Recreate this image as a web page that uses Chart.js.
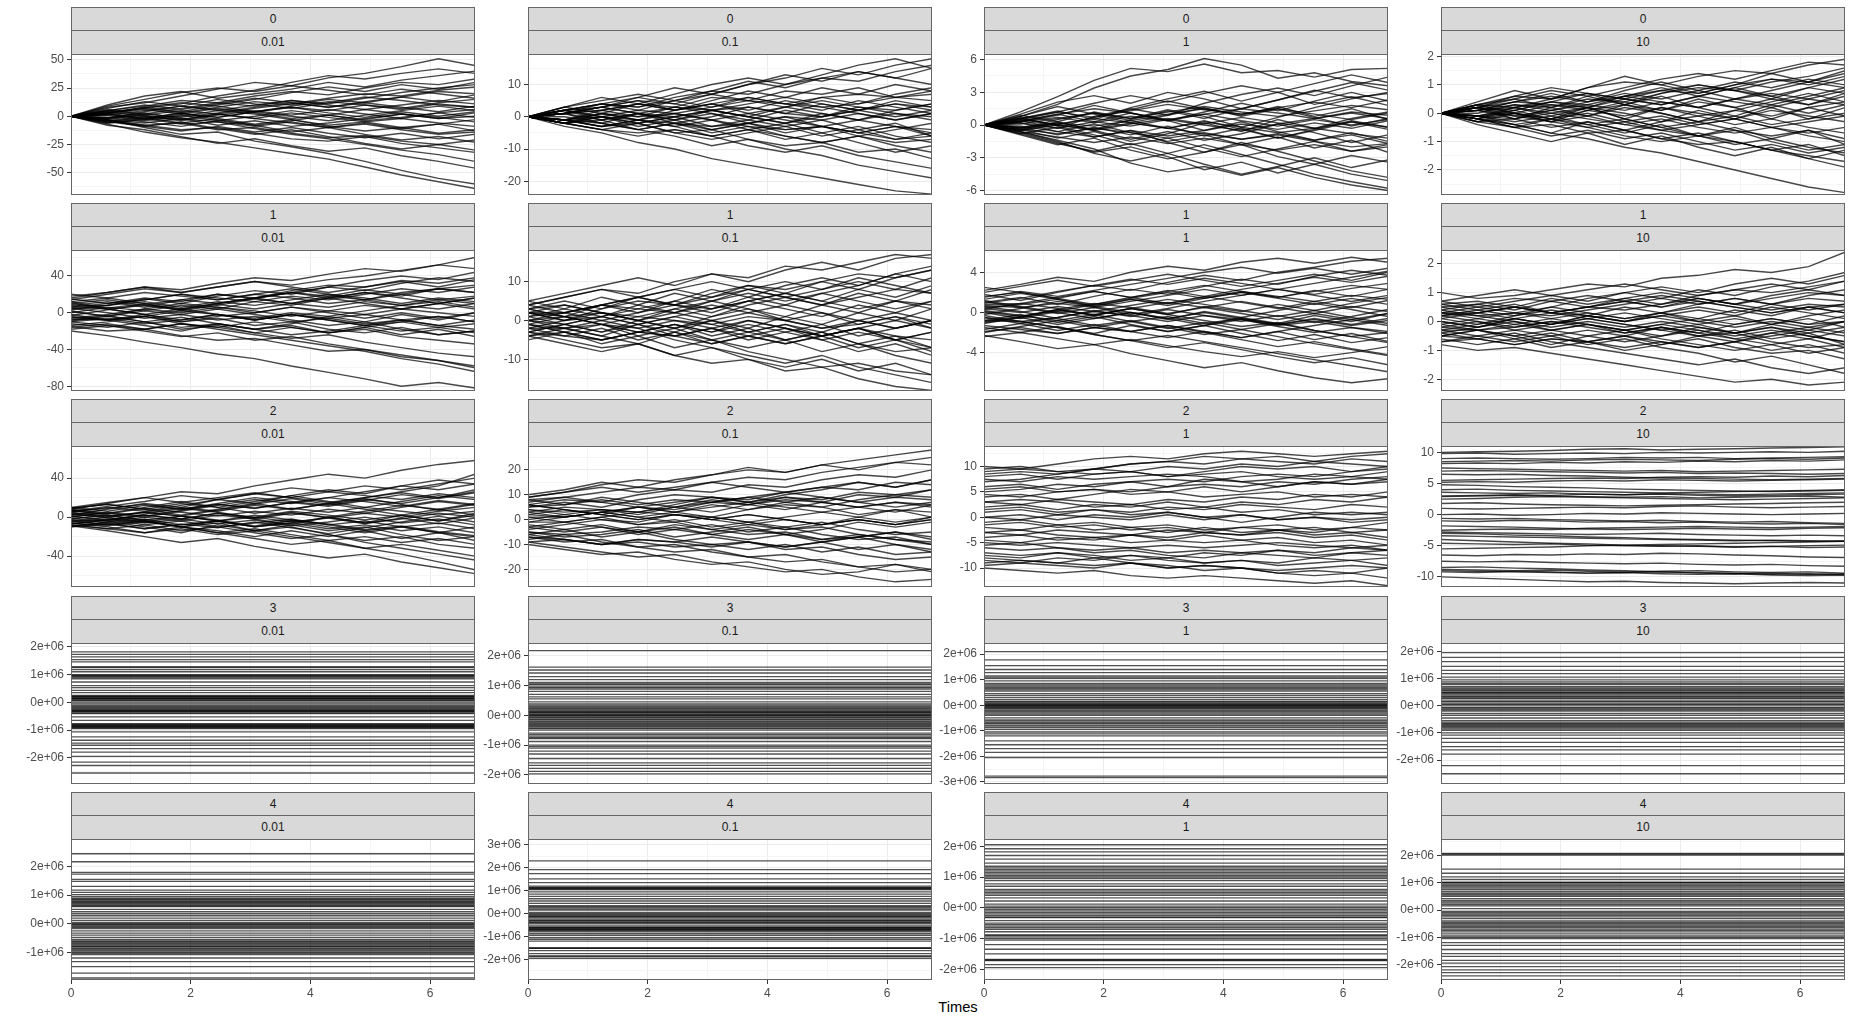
<!DOCTYPE html>
<html><head><meta charset="utf-8">
<script src="https://cdn.jsdelivr.net/npm/chart.js@4.4.0/dist/chart.umd.min.js"></script>
<style>
html,body{margin:0;padding:0;background:#fff;}
body{width:1853px;height:1025px;position:relative;overflow:hidden;font-family:"Liberation Sans",Arial,sans-serif;}
.strip{position:absolute;box-sizing:border-box;background:#D9D9D9;border:1px solid #666;color:#1A1A1A;font-size:12px;text-align:center;}
.s2{border-top:none;border-bottom:none;}
canvas{position:absolute;}
#xtitle{position:absolute;left:958px;top:999px;transform:translateX(-50%);font-size:14.7px;color:#000;line-height:17px;}
</style></head><body>
<div id="xtitle">Times</div>
<script>
// ---------------- DATA ----------------
const rowLabels = ["0", "1", "2", "3", "4"];
const colLabels = ["0.01", "0.1", "1", "10"];
const times = [0, 0.61, 1.23, 1.84, 2.45, 3.07, 3.68, 4.3, 4.91, 5.52, 6.14, 6.75];
const xTicks = [0, 1, 2, 3, 4, 5, 6];

// row "0"
const paths_r0_c0 = [
[0,5,9,14,12,18,22,19,25,30,28,33],[0,-4,-8,-6,-12,-10,-15,-19,-17,-22,-25,-21],[0,8,12,18,24,30,27,34,38,44,51,45],
[0,-6,-3,2,-1,4,8,5,10,7,12,15],[0,3,-2,-7,-5,-11,-16,-20,-25,-30,-34,-40],[0,-2,4,9,6,3,-2,1,-4,-1,3,6],
[0,10,18,22,16,20,24,30,26,32,36,40],[0,-7,-14,-19,-23,-28,-33,-38,-45,-52,-58,-64],[0,4,7,3,8,13,10,15,12,17,22,20],
[0,-3,-8,-12,-10,-15,-20,-22,-18,-24,-28,-32],[0,6,2,7,12,9,14,11,16,21,25,28],[0,-5,-1,-6,-2,-7,-3,-9,-13,-10,-15,-12],
[0,2,8,4,10,15,21,26,22,28,24,30],[0,-8,-12,-18,-24,-20,-26,-31,-28,-35,-40,-46],[0,1,-4,0,5,2,-3,-8,-5,-10,-7,-3],
[0,7,13,9,15,11,7,12,17,14,10,8],[0,-1,3,-2,-8,-4,-9,-6,-2,2,-1,-5],[0,5,1,-3,2,7,11,16,20,18,23,26],
[0,-4,-9,-5,-11,-16,-12,-18,-24,-29,-25,-30],[0,3,7,11,18,23,30,36,33,38,42,38],[0,-6,-2,3,-3,-8,-14,-10,-16,-21,-18,-23],
[0,2,-3,1,-4,0,5,1,6,2,-2,0],[0,9,15,21,25,22,27,23,19,24,20,16],[0,-3,-10,-16,-14,-22,-27,-33,-40,-48,-55,-60],
[0,3,6,2,7,4,9,13,10,6,11,8],[0,-2,1,5,2,-2,3,-1,-5,-2,-6,-9],[0,4,0,-4,1,5,1,6,2,-2,3,-1],
[0,-3,-6,-2,-5,-9,-5,-10,-6,-11,-7,-13],[0,1,5,9,5,10,14,10,6,10,14,11],[0,-1,-5,-9,-4,-8,-4,1,-3,2,-2,3],
[0,5,10,6,11,16,12,8,13,17,13,19],[0,-4,0,-3,2,-2,-6,-10,-7,-12,-16,-14],[0,2,-2,3,-1,4,0,-4,1,5,9,5],
[0,-5,-9,-13,-9,-14,-10,-15,-19,-15,-20,-16],[0,3,8,12,9,4,8,3,-1,4,0,4],[0,-2,2,-1,3,8,12,8,12,8,4,9]];
const paths_r0_c1 = [
[0,2,4,3,6,8,7,10,12,11,14,16],[0,-1,-3,-2,-5,-4,-7,-9,-8,-11,-10,-13],[0,3,1,4,2,5,8,6,9,7,10,8],
[0,-2,0,-3,-1,-4,-2,-5,-3,-6,-4,-2],[0,1,3,6,4,7,10,12,15,13,16,18],[0,-3,-5,-8,-10,-13,-15,-17,-19,-21,-23,-24],
[0,2,-1,1,-2,0,3,1,4,2,5,3],[0,-1,1,-1,2,4,2,5,3,1,-1,1],[0,1,-2,-4,-2,-5,-3,-6,-8,-6,-9,-11],
[0,3,5,7,5,8,11,9,12,14,12,10],[0,-2,-4,-2,-5,-7,-5,-3,-6,-4,-7,-5],[0,1,3,1,-1,2,0,-2,1,-1,2,4],
[0,2,4,6,9,7,10,13,11,14,12,15],[0,-2,-1,-4,-6,-9,-7,-10,-12,-15,-17,-19],[0,1,2,0,3,1,-1,-3,-1,-4,-2,-6],
[0,-1,2,4,3,6,5,8,7,9,6,7],[0,2,0,-2,0,-3,-1,2,0,3,1,-1],[0,-1,-3,-1,-3,-1,-4,-2,-5,-3,-6,-8],
[0,2,3,5,2,4,1,3,6,4,7,9],[0,-2,-4,-6,-4,-6,-9,-11,-9,-12,-14,-16],[0,1,4,2,5,3,6,4,2,5,3,1],
[0,-1,-2,1,-1,1,-2,0,-3,-5,-3,-5],[0,3,6,4,7,10,12,10,13,16,18,15],[0,-2,1,-1,-3,-6,-4,-7,-5,-8,-11,-9],
[0,1,3,1,3,2,4,6,4,2,4,3],[0,-1,0,2,1,-1,1,-1,-3,-1,-3,-4],[0,2,0,-2,0,2,0,3,1,-1,1,0],
[0,-1,-3,-1,-2,-4,-2,-4,-3,-5,-3,-6],[0,1,2,4,2,4,6,4,3,4,6,5],[0,0,-2,-4,-2,-3,-2,0,-1,1,-1,1],
[0,2,4,3,5,7,5,4,6,7,6,8],[0,-2,0,-1,1,-1,-3,-4,-3,-5,-7,-6],[0,1,-1,1,0,2,0,-2,0,2,4,2],
[0,-2,-4,-5,-4,-6,-4,-6,-8,-6,-8,-7],[0,1,3,5,4,2,3,1,0,2,0,2],[0,-1,1,0,1,3,5,3,5,3,2,4]];
const paths_r0_c2 = [
[0,0.8,1.9,3.4,4.5,5.1,6.1,5.5,4.3,4.8,4.0,3.6],[0,1.2,2.6,4.1,5.2,4.9,5.6,4.8,5.0,4.4,5.1,5.2],[0,-0.6,-1.4,-2.2,-3.5,-4.3,-3.8,-4.6,-3.9,-4.8,-5.5,-6.0],
[0,0.4,-0.3,0.8,1.5,0.9,2.0,2.8,3.4,2.7,3.6,4.4],[0,-0.8,-0.2,-1.1,-0.5,-1.6,-2.5,-1.8,-2.9,-3.6,-2.8,-3.4],[0,0.6,1.3,0.5,1.6,2.4,3.1,2.2,3.0,1.9,2.6,1.8],
[0,-0.4,-1.2,-0.6,-1.5,-0.8,0.2,-0.6,0.5,-0.3,0.6,1.2],[0,0.9,0.3,1.2,0.6,1.4,0.8,-0.2,0.7,1.6,2.4,3.0],[0,-0.7,-1.6,-2.5,-2.0,-2.9,-4.1,-3.4,-4.4,-3.6,-4.5,-5.1],
[0,0.3,0.9,1.8,1.1,0.4,-0.5,0.3,-0.6,-1.4,-0.7,-1.5],[0,-0.5,0.2,-0.4,0.5,1.3,0.6,1.5,2.3,3.1,3.9,3.2],[0,0.7,-0.1,-0.9,-1.8,-1.2,-2.1,-2.9,-2.2,-1.5,-2.4,-1.8],
[0,-0.9,-1.8,-1.2,-2.3,-3.1,-2.5,-1.6,-2.4,-3.3,-4.2,-4.8],[0,0.5,1.2,2.0,2.7,2.1,2.9,3.6,3.0,3.8,4.6,3.9],[0,-0.3,0.5,1.1,0.4,-0.3,0.4,-0.4,-1.2,-0.5,0.3,-0.4],
[0,0.8,1.7,1.0,0.2,0.9,1.6,0.8,1.5,0.7,-0.1,0.6],[0,-0.6,-1.5,-2.6,-3.3,-2.6,-3.6,-4.5,-3.8,-3.0,-3.9,-3.2],[0,0.2,-0.6,0.1,-0.7,-1.5,-0.9,-1.8,-1.1,-2.1,-1.4,-2.5],
[0,1.0,2.1,2.7,2.0,3.0,2.4,1.5,2.3,3.2,2.5,2.9],[0,-0.4,0.3,-0.5,-1.3,-0.6,-1.4,-0.8,0.1,-0.7,-1.6,-0.9],[0,0.6,0.0,0.7,1.4,2.2,1.5,0.9,1.7,0.8,1.5,0.5],
[0,-0.8,-1.7,-2.4,-1.7,-2.6,-1.8,-2.7,-3.6,-4.5,-5.2,-5.8],[0,0.3,1.0,0.3,1.1,0.4,1.2,2.0,1.3,2.2,3.0,2.2],[0,-0.2,-0.9,-0.2,-0.9,-0.1,-1.0,-0.3,-1.2,-0.4,0.4,-0.2],
[0,0.3,0.7,0.2,0.8,0.4,1.0,1.5,1.1,0.6,1.2,0.9],[0,-0.3,0.1,0.6,0.2,-0.3,0.3,-0.2,-0.7,-0.3,-0.8,-1.2],[0,0.5,0.0,-0.5,0.1,0.6,0.1,0.7,0.2,-0.3,0.3,-0.2],
[0,-0.4,-0.8,-0.3,-0.7,-1.2,-0.7,-1.3,-0.8,-1.4,-0.9,-1.7],[0,0.1,0.6,1.1,0.6,1.2,1.7,1.2,0.8,1.3,1.8,1.4],[0,-0.1,-0.6,-1.1,-0.5,-1.0,-0.5,0.1,-0.4,0.2,-0.3,0.4],
[0,0.6,1.2,0.7,1.3,1.9,1.4,1.0,1.6,2.1,1.6,2.3],[0,-0.5,0.0,-0.4,0.2,-0.3,-0.8,-1.3,-0.9,-1.5,-2.0,-1.7],[0,0.2,-0.3,0.3,-0.1,0.5,0.0,-0.5,0.1,0.6,1.1,0.6],
[0,-0.6,-1.1,-1.6,-1.1,-1.7,-1.2,-1.8,-2.3,-1.8,-2.4,-2.0],[0,0.4,1.0,1.5,1.1,0.5,1.0,0.4,-0.1,0.5,0.0,0.5],[0,-0.2,0.2,-0.1,0.4,1.0,1.5,1.0,1.5,1.0,0.5,1.1]];
const paths_r0_c3 = [
[0,0.3,0.6,0.5,0.9,1.1,1.0,1.3,1.5,1.4,1.7,1.9],[0,-0.2,-0.4,-0.7,-0.9,-1.2,-1.4,-1.7,-2.0,-2.3,-2.6,-2.8],[0,0.2,0.1,0.4,0.3,0.6,0.8,0.7,1.0,1.2,1.1,1.4],
[0,-0.1,0.1,-0.2,0.0,-0.3,-0.1,-0.4,-0.2,-0.5,-0.3,-0.1],[0,0.1,0.3,0.2,0.5,0.4,0.7,0.9,0.8,1.1,1.3,1.6],[0,-0.3,-0.5,-0.4,-0.7,-0.6,-0.9,-1.1,-1.0,-1.3,-1.5,-1.7],
[0,0.2,0.0,0.3,0.1,0.3,0.1,0.4,0.2,0.5,0.3,0.6],[0,-0.1,-0.3,-0.1,-0.4,-0.2,-0.5,-0.3,-0.6,-0.8,-0.6,-0.9],[0,0.1,0.4,0.6,0.4,0.7,0.5,0.8,1.1,0.9,1.2,1.0],
[0,-0.2,0.0,-0.2,0.1,-0.1,0.2,0.0,-0.2,0.1,-0.1,-0.3],[0,0.3,0.5,0.8,0.6,0.9,1.2,1.4,1.2,1.5,1.8,1.7],[0,-0.2,-0.5,-0.8,-0.6,-0.9,-0.7,-1.0,-1.3,-1.1,-1.4,-1.2],
[0,0.1,-0.1,0.1,0.3,0.1,0.4,0.2,0.5,0.7,0.5,0.8],[0,-0.1,0.2,0.0,-0.2,-0.4,-0.2,-0.5,-0.7,-0.5,-0.8,-1.0],[0,0.2,0.4,0.3,0.2,0.5,0.3,0.6,0.4,0.2,0.5,0.3],
[0,-0.3,-0.2,-0.5,-0.3,-0.6,-0.9,-0.7,-1.0,-1.3,-1.6,-1.9],[0,0.1,0.2,0.5,0.7,0.5,0.8,1.0,0.8,0.6,0.9,1.2],[0,-0.1,-0.2,0.1,-0.1,0.2,0.0,-0.3,-0.1,-0.4,-0.2,0.0],
[0,0.2,-0.1,-0.3,-0.1,-0.4,-0.6,-0.4,-0.2,-0.5,-0.7,-0.5],[0,0.0,0.3,0.1,0.4,0.6,0.4,0.2,0.5,0.3,0.6,0.9],[0,-0.2,-0.4,-0.2,-0.5,-0.8,-1.0,-0.8,-1.1,-0.9,-1.2,-1.4],
[0,0.3,0.2,0.4,0.7,0.5,0.3,0.6,0.9,1.2,1.0,1.3],[0,-0.1,0.0,-0.3,-0.5,-0.3,-0.6,-0.8,-1.0,-1.3,-1.1,-1.5],[0,0.1,-0.2,0.0,0.2,0.0,-0.3,-0.1,0.1,-0.1,0.2,0.4],
[0,0.2,0.5,0.2,0.6,0.3,0.7,1.0,0.8,0.5,0.9,0.7],[0,-0.2,0.1,0.4,0.2,-0.2,0.2,-0.1,-0.4,-0.2,-0.5,-0.7],[0,0.3,0.0,-0.3,0.1,0.4,0.1,0.5,0.2,-0.2,0.2,-0.1],
[0,-0.2,-0.5,-0.2,-0.4,-0.7,-0.4,-0.8,-0.5,-0.9,-0.6,-1.1],[0,0.1,0.4,0.7,0.4,0.8,1.1,0.8,0.5,0.8,1.1,0.9],[0,-0.1,-0.4,-0.7,-0.3,-0.6,-0.3,0.1,-0.2,0.2,-0.2,0.2],
[0,0.4,0.8,0.5,0.9,1.3,1.0,0.7,1.0,1.4,1.1,1.5],[0,-0.3,0.0,-0.2,0.2,-0.2,-0.5,-0.8,-0.6,-1.0,-1.3,-1.1],[0,0.2,-0.2,0.2,-0.1,0.3,0.0,-0.3,0.1,0.4,0.7,0.4],
[0,-0.4,-0.7,-1.0,-0.7,-1.1,-0.8,-1.2,-1.5,-1.2,-1.6,-1.3],[0,0.2,0.6,0.9,0.7,0.3,0.6,0.2,-0.1,0.3,0.0,0.3],[0,-0.2,0.2,-0.1,0.2,0.6,0.9,0.6,0.9,0.6,0.3,0.7]];

// row "1"
const paths_r1_c0 = [
[18,22,28,25,32,38,35,42,48,45,52,60],[-15,-20,-18,-25,-30,-28,-35,-42,-40,-48,-52,-58],[8,12,6,14,20,16,24,30,28,35,32,38],
[-5,-8,-2,-10,-6,-14,-10,-18,-22,-16,-24,-20],[12,5,10,2,8,15,10,18,14,22,26,30],[-20,-25,-32,-38,-45,-50,-58,-65,-72,-80,-76,-82],
[3,8,15,10,18,24,20,28,35,40,36,44],[-8,-3,-10,-5,-12,-18,-14,-22,-18,-26,-30,-34],[15,10,16,12,20,15,22,18,25,20,14,18],
[-12,-16,-10,-18,-14,-22,-28,-24,-32,-38,-44,-48],[0,6,2,8,4,12,8,16,22,18,26,22],[5,0,-6,-2,-8,-4,-10,-6,-2,-8,-4,-10],
[-3,3,9,14,10,16,22,28,24,32,38,34],[20,16,22,18,14,20,16,10,14,8,12,6],[-18,-14,-20,-26,-22,-30,-26,-34,-40,-46,-52,-60],
[10,14,8,3,9,4,10,6,12,8,14,10],[-6,-2,4,0,6,2,-4,2,-2,4,0,-4],[2,-4,-10,-16,-12,-18,-24,-20,-14,-20,-16,-22],
[14,20,26,22,28,34,30,36,40,46,52,48],[-10,-6,-12,-8,-2,-6,0,-4,2,8,4,10],[6,10,14,20,16,12,18,14,20,26,22,28],
[-2,-8,-4,-12,-18,-24,-30,-36,-42,-50,-56,-64],[9,4,-2,4,-2,-8,-2,-8,-14,-10,-16,-12],[-14,-10,-4,-10,-4,0,6,2,8,4,10,16],
[4,8,12,6,12,8,14,20,16,10,16,12],[-4,-8,-4,2,-2,-8,-2,-6,-12,-8,-14,-18],[12,16,10,4,10,16,10,16,10,4,10,4],
[-10,-14,-18,-12,-16,-22,-16,-22,-16,-24,-18,-26],[7,8,14,20,14,20,26,20,14,20,26,22],[-7,-8,-14,-20,-12,-18,-12,-4,-10,-2,-8,0],
[16,22,28,22,28,34,28,22,28,34,28,36],[1,-4,2,-2,4,-2,-8,-14,-10,-18,-24,-20],[-16,-12,-18,-12,-16,-10,-16,-22,-16,-10,-4,-10],
[11,4,-2,-8,-2,-8,-2,-8,-14,-8,-14,-8],[-9,-4,4,10,6,0,6,0,-6,0,-6,0],[6,4,8,4,10,16,22,16,22,16,10,16]];
const paths_r1_c1 = [
[4,6,8,7,10,12,11,14,13,15,17,16],[-3,-5,-7,-6,-9,-11,-10,-13,-12,-15,-17,-18],[2,0,3,5,4,7,9,8,10,12,11,13],
[-1,-3,-1,-4,-2,-5,-7,-5,-8,-6,-9,-11],[5,3,6,4,7,5,8,10,8,11,9,7],[-5,-3,-6,-4,-7,-5,-8,-10,-12,-11,-13,-14],
[1,3,1,4,2,5,3,0,2,-1,1,-2],[-2,0,2,0,3,1,4,6,4,7,5,8],[3,1,-1,-3,-1,-4,-2,-5,-3,-6,-4,-7],
[0,-2,0,2,5,3,6,4,7,9,12,14],[-4,-2,-4,-1,-3,0,-2,1,-1,2,0,3],[2,4,2,0,-2,0,-3,-1,-4,-2,-5,-3],
[-1,1,4,6,8,6,9,7,5,8,6,9],[4,2,0,-2,-5,-7,-9,-11,-9,-12,-14,-16],[-3,-1,-3,0,-2,1,3,1,4,2,5,3],
[1,-1,-3,-1,-4,-2,-5,-3,-1,-4,-2,0],[0,2,4,3,5,8,6,9,11,9,12,10],[-2,-4,-2,-5,-3,-6,-4,-2,-5,-8,-6,-9],
[3,5,3,6,4,2,5,3,1,4,2,5],[-4,-6,-8,-6,-9,-7,-10,-12,-10,-13,-11,-14],[2,0,1,-1,1,3,5,7,10,8,11,13],
[-1,-3,-5,-3,-1,-3,0,-2,-4,-2,-5,-7],[5,7,9,11,9,12,10,13,15,13,16,17],[0,1,-1,-2,0,-1,1,0,-2,-1,1,-1],
[1,2,4,2,4,3,5,7,5,3,5,4],[-1,-2,-1,1,0,-2,0,-2,-4,-2,-4,-5],[3,4,2,0,2,4,2,4,2,0,2,0],
[-3,-4,-5,-3,-4,-6,-4,-6,-4,-7,-5,-8],[2,2,4,6,4,6,8,6,4,6,8,7],[-2,-2,-4,-6,-3,-5,-3,-1,-3,0,-2,0],
[4,6,8,6,8,10,8,6,8,10,8,11],[0,-1,1,-1,1,-1,-3,-5,-3,-6,-8,-7],[-4,-3,-5,-3,-4,-2,-4,-6,-4,-2,0,-2],
[3,1,-1,-3,-1,-3,-1,-3,-5,-3,-5,-3],[-3,-1,1,3,2,0,2,0,-2,0,-2,0],[2,1,2,1,3,5,7,5,7,5,3,5]];
const paths_r1_c2 = [
[2.2,2.8,3.5,3.1,4.0,4.6,4.2,5.0,5.4,4.9,5.5,5.0],[-2.3,-2.9,-3.6,-3.2,-4.1,-4.8,-5.5,-5.0,-5.8,-6.5,-7.0,-6.6],[1.0,1.5,0.8,1.6,2.3,1.8,2.6,3.3,2.8,3.6,4.2,3.7],
[-0.8,-0.2,-1.0,-0.4,-1.2,-1.9,-1.3,-2.1,-2.8,-2.2,-3.0,-2.5],[0.3,0.9,0.4,-0.3,0.4,-0.2,0.6,0.1,0.8,0.2,0.9,1.5],[-1.5,-2.0,-1.4,-2.2,-2.8,-3.5,-3.0,-3.7,-4.4,-5.0,-4.5,-5.2],
[1.8,1.2,2.0,2.7,2.2,3.0,3.7,3.2,4.0,4.5,5.1,5.4],[-0.2,0.4,1.1,0.6,1.3,0.7,1.4,2.0,1.5,2.2,1.6,2.3],[0.6,0.1,-0.6,-1.3,-0.8,-1.5,-2.2,-1.7,-1.1,-1.8,-2.4,-3.0],
[-1.1,-0.5,-1.2,-0.6,0.0,-0.7,0.1,-0.5,0.2,0.9,0.3,-0.4],[2.5,2.0,1.4,2.1,1.5,0.9,1.6,1.0,0.4,1.1,0.5,1.2],[-2.0,-1.4,-0.8,-1.5,-0.9,-1.6,-1.0,-1.7,-2.4,-3.1,-3.7,-4.3],
[0.0,-0.6,0.1,0.8,1.5,2.2,1.6,2.3,2.9,3.5,3.0,3.6],[1.3,1.9,1.3,0.6,0.0,-0.6,-1.3,-0.7,-1.4,-2.0,-1.5,-2.1],[-0.5,-1.1,-1.8,-1.2,-1.9,-1.3,-2.0,-2.7,-3.4,-2.9,-3.6,-4.2],
[0.9,1.4,2.1,2.7,3.3,2.8,3.4,2.9,2.3,2.9,3.5,4.1],[-1.7,-1.1,-0.5,0.2,-0.4,0.3,-0.3,-0.9,-0.3,-1.0,-0.4,0.3],[0.4,0.0,0.6,0.1,0.7,1.3,0.8,0.2,-0.4,0.2,-0.5,-1.1],
[-0.3,-0.9,-1.5,-2.2,-2.8,-2.3,-2.9,-3.5,-4.1,-4.7,-5.3,-5.9],[1.5,2.1,1.6,2.2,2.8,3.4,4.0,4.5,3.9,4.4,3.8,4.4],[-0.9,-0.4,0.3,-0.3,0.4,1.0,0.5,1.1,0.5,-0.1,0.6,0.1],
[0.2,-0.3,-0.8,-0.2,-0.9,-0.4,-1.1,-0.6,-1.2,-0.7,-1.3,-0.8],[-2.4,-2.0,-2.6,-3.2,-2.7,-3.3,-3.9,-4.4,-3.9,-4.5,-4.0,-3.4],[1.1,0.5,-0.1,0.5,-0.2,0.4,1.1,1.7,2.3,1.8,2.4,2.9],
[0.5,0.8,1.3,0.7,1.3,0.9,1.5,2.1,1.6,1.1,1.7,1.3],[-0.5,-0.9,-0.5,0.1,-0.3,-0.9,-0.3,-0.7,-1.3,-0.9,-1.5,-1.9],[1.6,2.0,1.4,0.8,1.4,2.0,1.4,2.0,1.4,0.8,1.4,0.8],
[-1.3,-1.7,-2.1,-1.5,-1.9,-2.5,-1.9,-2.5,-1.9,-2.7,-2.1,-2.9],[0.8,0.9,1.5,2.1,1.5,2.1,2.7,2.1,1.5,2.1,2.7,2.3],[-0.8,-0.9,-1.5,-2.1,-1.3,-1.9,-1.3,-0.5,-1.1,-0.3,-0.9,-0.1],
[2.0,2.6,3.2,2.6,3.2,3.8,3.2,2.6,3.2,3.8,3.2,4.0],[0.1,-0.4,0.2,-0.2,0.4,-0.2,-0.8,-1.4,-1.0,-1.8,-2.4,-2.0],[-1.9,-1.5,-2.1,-1.5,-1.9,-1.3,-1.9,-2.5,-1.9,-1.3,-0.7,-1.3],
[1.2,0.6,0.0,-0.6,0.0,-0.6,0.0,-0.6,-1.2,-0.6,-1.2,-0.6],[-1.0,-0.5,0.3,0.9,0.5,-0.1,0.5,-0.1,-0.7,-0.1,-0.7,-0.1],[0.7,0.5,0.9,0.5,1.1,1.7,2.3,1.7,2.3,1.7,1.1,1.7]];
const paths_r1_c3 = [
[1.0,0.8,0.9,1.1,1.3,1.2,1.5,1.6,1.8,1.7,1.9,2.4],[-0.8,-1.0,-0.9,-1.1,-1.3,-1.5,-1.7,-1.9,-2.1,-2.0,-2.2,-2.1],[0.5,0.6,0.4,0.7,0.5,0.8,0.6,0.9,1.1,1.0,1.2,1.4],
[-0.5,-0.3,-0.6,-0.4,-0.7,-0.5,-0.8,-0.6,-0.9,-1.1,-1.0,-1.3],[0.2,0.4,0.2,0.5,0.3,0.1,0.3,0.0,0.2,-0.1,0.1,-0.2],[-0.2,0.0,-0.3,-0.1,0.2,0.0,0.3,0.5,0.3,0.6,0.8,0.7],
[0.6,0.4,0.6,0.3,0.1,-0.1,-0.3,-0.1,-0.4,-0.2,-0.5,-0.7],[-0.6,-0.8,-0.6,-0.9,-0.7,-1.0,-0.8,-0.5,-0.7,-0.4,-0.6,-0.3],[0.3,0.1,0.3,0.5,0.8,1.0,1.2,1.0,1.3,1.5,1.3,1.6],
[0.0,-0.2,0.0,-0.3,-0.1,-0.4,-0.2,-0.5,-0.3,-0.6,-0.4,-0.8],[-0.3,-0.1,0.1,-0.1,0.2,0.0,0.2,0.4,0.2,0.5,0.3,0.1],[0.4,0.6,0.8,0.7,0.9,0.7,0.5,0.8,0.6,0.9,1.1,0.9],
[-0.4,-0.6,-0.4,-0.7,-0.9,-1.1,-1.3,-1.5,-1.3,-1.6,-1.8,-1.6],[0.1,0.3,0.1,-0.1,0.1,0.3,0.1,-0.1,0.1,-0.1,0.2,0.4],[0.7,0.5,0.7,0.9,0.7,1.0,0.8,1.1,0.9,1.2,1.4,1.7],
[-0.1,-0.3,-0.5,-0.3,-0.5,-0.3,-0.6,-0.8,-1.0,-0.8,-1.1,-0.9],[0.2,0.0,-0.2,0.0,-0.2,-0.4,-0.2,-0.4,-0.6,-0.4,-0.2,-0.4],[-0.7,-0.5,-0.7,-0.5,-0.3,-0.5,-0.2,-0.4,-0.1,0.1,-0.1,0.2],
[0.5,0.3,0.5,0.3,0.5,0.7,0.9,0.7,0.5,0.3,0.5,0.3],[-0.3,-0.5,-0.3,-0.5,-0.8,-0.6,-0.9,-1.1,-1.4,-1.2,-1.5,-1.8],[0.1,-0.1,0.2,0.4,0.2,0.5,0.3,0.6,0.8,0.6,0.9,1.1],
[-0.5,-0.3,-0.1,-0.3,-0.1,-0.3,-0.5,-0.3,-0.6,-0.8,-0.6,-0.9],[0.3,0.5,0.3,0.1,0.3,0.1,0.3,0.1,0.4,0.2,0.5,0.6],[-0.1,0.1,-0.1,0.1,-0.1,-0.3,-0.1,0.1,-0.1,0.1,-0.1,0.0],
[0.2,0.3,0.5,0.3,0.5,0.4,0.6,0.8,0.6,0.4,0.6,0.5],[-0.2,-0.3,-0.2,0.0,-0.1,-0.3,-0.1,-0.3,-0.5,-0.3,-0.5,-0.7],[0.6,0.7,0.5,0.3,0.5,0.7,0.5,0.7,0.5,0.3,0.5,0.3],
[-0.5,-0.6,-0.8,-0.6,-0.7,-0.9,-0.7,-0.9,-0.7,-1.0,-0.8,-1.1],[0.3,0.3,0.5,0.8,0.6,0.8,1.0,0.8,0.6,0.8,1.0,0.9],[-0.3,-0.3,-0.5,-0.8,-0.5,-0.7,-0.5,-0.2,-0.4,-0.1,-0.3,0.0],
[0.7,0.9,1.1,0.9,1.1,1.3,1.1,0.9,1.1,1.3,1.1,1.4],[0.0,-0.2,0.1,-0.1,0.1,-0.1,-0.3,-0.5,-0.4,-0.7,-0.9,-0.8],[-0.7,-0.6,-0.8,-0.6,-0.7,-0.5,-0.7,-0.9,-0.7,-0.5,-0.3,-0.5],
[0.4,0.2,0.0,-0.2,0.0,-0.2,0.0,-0.2,-0.4,-0.2,-0.4,-0.2],[-0.4,-0.2,0.1,0.3,0.2,0.0,0.2,0.0,-0.2,0.0,-0.2,0.0],[0.3,0.2,0.3,0.2,0.4,0.6,0.8,0.6,0.8,0.6,0.4,0.6]];

// row "2"
const paths_r2_c0 = [
[8,14,20,26,24,32,38,44,40,48,54,58],[-9,-14,-20,-26,-22,-30,-36,-42,-38,-46,-52,-58],[5,10,6,12,18,14,22,28,24,32,38,34],
[-4,-8,-3,-10,-6,-14,-10,-18,-24,-20,-28,-32],[10,6,12,8,14,20,16,12,18,14,20,26],[-7,-2,-8,-14,-10,-16,-22,-18,-26,-32,-38,-44],
[2,8,14,10,18,24,30,26,32,28,34,40],[-1,-6,-2,-8,-4,-10,-6,-12,-8,-14,-10,-16],[7,3,9,5,1,6,2,8,4,10,16,12],
[-10,-6,-12,-8,-4,-10,-6,0,-6,-2,4,0],[0,5,1,7,13,9,15,11,17,23,19,25],[4,0,-5,-10,-16,-12,-18,-24,-20,-26,-22,-28],
[-5,0,5,10,6,12,8,14,20,26,32,44],[9,13,8,14,10,4,9,5,10,6,2,6],[-3,-8,-4,-10,-16,-22,-28,-24,-32,-38,-46,-54],
[1,-3,2,-2,4,0,6,2,-3,2,-4,2],[6,11,16,22,18,24,20,26,22,18,24,20],[-8,-12,-8,-4,-10,-6,-2,-8,-14,-10,-16,-20],
[3,-1,-6,-2,-7,-3,-9,-5,0,-6,-2,-8],[-6,-10,-16,-12,-18,-14,-20,-26,-32,-28,-34,-40],[8,4,0,6,12,18,14,20,26,32,28,34],
[-2,2,-3,1,-4,0,-5,-1,4,0,6,10],[5,1,5,1,-4,2,-3,-8,-4,-10,-6,-12],[-9,-5,0,-4,2,-2,4,0,6,12,8,14],
[6,9,13,8,13,9,15,20,16,11,17,13],[-6,-9,-5,1,-3,-9,-3,-7,-13,-9,-15,-19],[9,13,8,2,8,14,8,14,8,2,8,2],
[-8,-12,-16,-10,-14,-20,-14,-20,-14,-22,-16,-24],[3,4,10,16,10,16,22,16,10,16,22,18],[-3,-4,-10,-16,-8,-14,-8,0,-6,2,-4,4],
[10,15,20,15,20,25,20,15,20,25,20,28],[1,-4,2,-2,4,-2,-8,-14,-10,-18,-24,-20],[-10,-7,-12,-7,-11,-5,-11,-17,-11,-5,1,-5],
[7,2,-4,-10,-4,-10,-4,-10,-16,-10,-16,-10],[-7,-3,3,9,5,-1,5,-1,-7,-1,-7,-1],[2,1,5,1,7,13,19,13,19,13,7,13]];
const paths_r2_c1 = [
[9,11,14,16,15,18,20,19,22,24,26,28],[-9,-11,-13,-15,-14,-17,-19,-21,-20,-23,-25,-24],[6,8,7,10,12,11,14,13,16,18,17,20],
[-6,-4,-7,-5,-8,-10,-9,-12,-11,-14,-16,-15],[3,5,4,2,5,3,6,8,7,10,9,12],[-3,-5,-3,-6,-4,-2,-5,-3,-6,-8,-7,-10],
[0,2,4,3,6,9,8,11,13,12,15,14],[8,6,9,7,5,8,6,4,7,5,3,6],[-8,-6,-9,-11,-10,-13,-15,-17,-16,-19,-21,-20],
[4,2,0,-2,-1,-4,-6,-5,-8,-7,-10,-12],[-4,-2,0,-1,2,1,4,6,5,8,10,9],[2,4,2,5,3,6,4,7,5,2,4,1],
[-2,-4,-2,-5,-3,-6,-8,-6,-9,-7,-5,-8],[7,9,11,13,12,15,17,16,19,21,23,22],[-7,-9,-8,-11,-13,-12,-15,-14,-17,-19,-18,-21],
[1,-1,1,-2,0,-3,-1,-4,-2,0,-2,1],[5,7,5,8,10,9,7,10,12,15,13,16],[-5,-7,-6,-4,-7,-5,-3,-6,-4,-1,-3,-1],
[10,12,15,13,16,18,21,19,22,20,23,25],[-10,-12,-14,-13,-16,-18,-17,-20,-22,-21,-18,-20],[3,1,3,1,-1,1,-1,1,3,1,4,3],
[-1,1,3,5,4,7,6,9,8,11,10,12],[6,4,2,0,2,0,-2,-4,-3,-6,-8,-10],[-6,-8,-10,-9,-11,-10,-12,-10,-13,-11,-14,-13],
[5,6,8,6,8,7,9,11,9,7,9,8],[-5,-6,-5,-3,-4,-6,-4,-6,-8,-6,-8,-9],[8,9,7,5,7,9,7,9,7,5,7,5],
[-7,-8,-10,-8,-9,-11,-9,-11,-9,-12,-10,-13],[1,1,3,5,3,5,7,5,3,5,7,6],[-1,-1,-3,-5,-2,-4,-2,0,-2,1,-1,1],
[9,11,13,11,13,15,13,11,13,15,13,16],[2,1,3,1,3,1,-1,-3,-1,-4,-6,-5],[-9,-8,-10,-8,-9,-7,-9,-11,-9,-7,-5,-7],
[6,4,2,0,2,0,2,0,-2,0,-2,0],[-3,-1,1,3,2,0,2,0,-2,0,-2,0],[4,3,4,3,5,7,9,7,9,7,5,7]];
const paths_r2_c2 = [
[10,9.5,10.5,11.5,12,11.5,12.5,13,12.5,12,12.5,13],[-10,-10.5,-11,-10.5,-11.5,-12,-11.5,-12,-12.5,-13,-12.5,-13.5],[8,8.5,7.5,8.5,9,8,9,10,9.5,10,9,10],
[-8,-8.5,-9,-8,-9,-10,-9.5,-10,-11,-10.5,-11,-10],[6,6.5,5.5,6.5,7,6,7.5,7,6,7,6.5,7.5],[-6,-6.5,-6,-7,-6.5,-7.5,-8,-7,-7.5,-8,-7,-7.5],
[4,4.5,3.5,4.5,5.5,5,6,5,6,7,6.5,7],[-4,-3.5,-4.5,-4,-5,-4.5,-3.5,-4.5,-4,-5,-4.5,-5.5],[2,2.5,1.5,2.5,2,3,2,3,2.5,3.5,3,4],
[-2,-2.5,-1.5,-2.5,-2,-3,-2,-3,-2.5,-2,-3,-2.5],[0,0.5,-0.5,0.5,0,1,0,-1,0,1,0.5,1],[9,9.5,9,8.5,9,8,8.5,9,8,7.5,8,7.5],
[-9,-8.5,-9,-9.5,-9,-10,-9.5,-10,-10.5,-10,-9.5,-10],[5,5.5,6.5,6,7,7.5,7,8,8.5,8,9,9.5],[-5,-5.5,-5,-5.5,-6,-5.5,-6,-5.5,-5,-5.5,-6,-5.5],
[3,2.5,3.5,3,2.5,3.5,3,4,3.5,4.5,4,5],[-3,-3.5,-2.5,-3,-3.5,-2.5,-3,-2,-2.5,-3.5,-3,-4],[1,1.5,0.5,1.5,1,2,1.5,2.5,2,1.5,2.5,2],
[-1,-0.5,-1.5,-1,-2,-1.5,-2.5,-2,-1.5,-2.5,-2,-1],[7,7.5,8.5,9.5,10.5,11,12,11.5,12,11,12,12.5],[-7,-7.5,-7,-8,-7.5,-8.5,-9,-8.5,-9.5,-9,-8.5,-8],
[3,3.5,3,2,2.5,1.5,2,1,1.5,0.5,1,0.5],[-3,-2.5,-3.5,-4,-3.5,-4.5,-5,-4.5,-5.5,-6,-5.5,-6.5],[0,-0.5,0.5,0,-0.5,0.5,-0.5,0.5,-0.5,0,-0.5,0],
[9.5,10,9,9.5,10.5,11,10.5,11.5,11,10.5,11.5,11],[-9.5,-9,-9.5,-10,-9,-9.5,-10.5,-10,-11,-11.5,-11,-12],[7.5,7,8,7.5,8,8.5,8,7,7.5,8.5,8,9],
[-7.5,-8,-7,-7.5,-8.5,-8,-9,-8.5,-9,-8,-8.5,-9.5],[5.5,6,5,5.5,4.5,5,4,4.5,5,4,4.5,4],[-5.5,-5,-6,-6.5,-6,-7,-6.5,-7,-6.5,-7.5,-7,-6.5],
[4.5,4,5,5.5,5,6,6.5,6,7,6.5,7.5,8],[-4.5,-5,-4,-4.5,-3.5,-4,-3,-3.5,-2.5,-3,-2,-2.5],[1.5,2,1,1.5,0.5,1,0,0.5,-0.5,0,-1,-0.5],
[-1.5,-1,-2,-1.5,-2.5,-2,-3,-3.5,-3,-4,-3.5,-4.5],[8.5,9,8.5,9.5,9,10,9.5,10.5,10,11,10.5,10],[-8.5,-9,-8,-8.5,-7.5,-8,-7,-7.5,-6.5,-7,-6,-6.5]];
const paths_r2_c3 = [
[10,10.1,10.2,10.3,10.5,10.6,10.4,10.5,10.6,10.7,10.8,10.9],[-10,-10.2,-10.4,-10.6,-10.8,-10.7,-10.9,-11,-11.1,-11,-10.9,-11],[9,9.1,9,8.9,9,9.2,9.1,9.2,9,9.1,9.2,9.3],
[-9,-9.1,-9.2,-9.3,-9.4,-9.3,-9.5,-9.6,-9.5,-9.7,-9.8,-9.7],[7.5,7.4,7.3,7.2,7.1,7,7.1,6.9,7,7.1,7.2,7.3],[-7.5,-7.6,-7.5,-7.7,-7.8,-7.9,-7.8,-8,-8.1,-8,-8.2,-8.3],
[5.5,5.6,5.7,5.8,5.9,5.8,6,6.1,6,6.2,6.1,6.3],[-5.5,-5.4,-5.3,-5.2,-5,-4.9,-4.8,-4.7,-4.6,-4.5,-4.4,-4.3],[4,4.1,3.9,3.8,3.7,3.6,3.5,3.6,3.7,3.8,3.9,4],
[-4,-4.2,-4.4,-4.6,-4.7,-4.9,-5,-5.1,-5.2,-5.1,-5,-4.9],[2.5,2.6,2.8,2.9,2.8,2.7,2.6,2.5,2.4,2.5,2.6,2.7],[-2.5,-2.4,-2.3,-2.4,-2.2,-2.1,-2,-1.9,-2,-2.1,-2,-1.9],
[1,0.9,1,1.1,1.2,1.1,1.3,1.4,1.2,1.1,1.2,1.3],[-1,-1.1,-0.9,-1,-1.2,-1.1,-1.3,-1.2,-1.4,-1.5,-1.4,-1.6],[3,3.1,3.2,3.1,3.3,3.2,3.4,3.3,3.2,3.3,3.4,3.5],
[-3,-3.1,-3.3,-3.4,-3.6,-3.7,-3.9,-4,-4.1,-4.2,-4.3,-4.2],[6.5,6.4,6.5,6.3,6.2,6,5.9,5.8,5.7,5.6,5.7,5.8],[-6.5,-6.6,-6.4,-6.5,-6.3,-6.4,-6.2,-6.3,-6.5,-6.6,-6.8,-6.9],
[8.5,8.6,8.7,8.6,8.8,8.9,8.8,8.7,8.9,9,8.9,9.1],[-8.5,-8.4,-8.6,-8.7,-8.9,-9,-9.2,-9.3,-9.4,-9.6,-9.5,-9.7],[0,0.1,-0.1,0,0.2,0.1,0.3,0.2,0.1,0,0.1,0.2],
[4.8,4.7,4.5,4.4,4.3,4.1,4,3.9,3.8,3.7,3.8,3.9],[-1.8,-1.9,-2,-2.2,-2.3,-2.4,-2.3,-2.2,-2.3,-2.4,-2.2,-2.1],[1.8,1.9,1.7,1.6,1.5,1.4,1.5,1.6,1.7,1.8,1.9,2],
[9.8,9.9,9.7,9.8,9.9,9.8,10,9.9,10,10.1,10,10.2],[-9.2,-9.3,-9.1,-9.2,-9.4,-9.3,-9.2,-9.4,-9.5,-9.4,-9.6,-9.5],[7,7.1,7,6.9,6.8,6.7,6.8,6.6,6.7,6.6,6.5,6.6],
[-8.8,-8.9,-9,-8.9,-9.1,-9.2,-9.1,-9,-9.2,-9.3,-9.2,-9.4],[5.2,5.3,5.2,5.4,5.5,5.4,5.6,5.5,5.4,5.5,5.6,5.7],[-4.6,-4.7,-4.8,-4.7,-4.9,-5,-5.1,-5,-5.2,-5.1,-5.3,-5.2],
[3.6,3.5,3.4,3.5,3.3,3.2,3.3,3.1,3,3.1,3.2,3.3],[-3.4,-3.5,-3.6,-3.7,-3.8,-3.9,-4,-4.1,-4.2,-4.1,-4.2,-4.3],[2.9,3,3.1,3,2.9,2.8,2.9,2.7,2.8,2.9,3,2.8],
[-2.8,-2.9,-3,-3.1,-3.2,-3.1,-3,-3.2,-3.3,-3.4,-3.3,-3.4],[8.2,8.3,8.2,8.4,8.3,8.5,8.4,8.6,8.5,8.7,8.6,8.8],[-0.6,-0.7,-0.6,-0.8,-0.9,-1,-0.9,-1.1,-1.2,-1.1,-1.3,-1.4]];

// rows "3" and "4": constant levels, in units of 1e6
const levels_r3_c0 = [1.82,1.73,1.64,1.54,1.46,1.28,1.25,1.18,1.10,1.0,0.97,0.95,0.92,0.88,0.84,0.73,0.60,0.53,0.43,0.35,0.25,0.22,0.2,0.19,0.16,0.14,0.13,0.1,0.07,0.04,-0.02,-0.07,-0.12,-0.16,-0.19,-0.23,-0.27,-0.29,-0.31,-0.33,-0.35,-0.38,-0.41,-0.53,-0.65,-0.77,-0.8,-0.82,-0.84,-0.86,-0.88,-0.9,-0.92,-0.95,-1.07,-1.25,-1.37,-1.47,-1.55,-1.67,-1.8,-1.95,-2.16,-2.28,-2.55];
const levels_r3_c1 = [2.17,1.62,1.52,1.42,1.3,1.2,1.1,1.05,1.02,0.95,0.92,0.88,0.8,0.7,0.62,0.55,0.45,0.38,0.34,0.3,0.26,0.22,0.18,0.15,0.12,0.1,0.08,0.05,0.02,0.0,-0.02,-0.05,-0.08,-0.12,-0.15,-0.2,-0.24,-0.28,-0.31,-0.35,-0.38,-0.42,-0.45,-0.5,-0.6,-0.65,-0.7,-0.75,-0.78,-0.88,-1.0,-1.05,-1.1,-1.2,-1.3,-1.45,-1.6,-1.68,-1.78,-1.88,-1.97];
const levels_r3_c2 = [2.1,1.78,1.55,1.4,1.28,1.15,1.1,1.05,0.95,0.85,0.8,0.75,0.7,0.65,0.6,0.55,0.45,0.38,0.3,0.22,0.15,0.12,0.08,0.05,0.02,0.0,-0.02,-0.05,-0.08,-0.12,-0.15,-0.2,-0.25,-0.3,-0.35,-0.4,-0.5,-0.58,-0.62,-0.68,-0.72,-0.78,-0.82,-0.88,-0.95,-1.05,-1.12,-1.2,-1.4,-1.55,-1.7,-1.85,-2.05,-2.78,-2.84];
const levels_r3_c3 = [1.95,1.78,1.62,1.45,1.3,1.18,1.05,0.95,0.88,0.82,0.78,0.7,0.66,0.62,0.58,0.55,0.5,0.48,0.45,0.4,0.35,0.32,0.28,0.25,0.18,0.15,0.1,0.05,0.02,-0.05,-0.08,-0.12,-0.16,-0.2,-0.28,-0.35,-0.45,-0.55,-0.6,-0.65,-0.68,-0.72,-0.76,-0.8,-0.85,-0.9,-1.0,-1.08,-1.2,-1.35,-1.5,-1.62,-1.78,-2.2,-2.5];
const levels_r4_c0 = [2.45,2.17,1.8,1.74,1.55,1.48,1.31,1.18,1.1,1.02,0.95,0.9,0.87,0.84,0.8,0.77,0.74,0.7,0.66,0.63,0.6,0.5,0.42,0.35,0.28,0.2,0.12,0.05,0.0,-0.02,-0.06,-0.1,-0.13,-0.17,-0.25,-0.33,-0.4,-0.48,-0.55,-0.6,-0.62,-0.66,-0.7,-0.74,-0.78,-0.8,-0.85,-0.88,-0.92,-0.96,-1.0,-1.04,-1.08,-1.2,-1.33,-1.5,-1.73,-1.9];
const levels_r4_c1 = [2.3,1.92,1.75,1.52,1.35,1.2,1.15,1.12,1.1,1.08,1.05,0.95,0.85,0.75,0.65,0.55,0.45,0.35,0.3,0.25,0.2,0.15,0.05,0.0,-0.05,-0.1,-0.12,-0.15,-0.2,-0.28,-0.3,-0.35,-0.4,-0.42,-0.5,-0.58,-0.6,-0.62,-0.65,-0.68,-0.7,-0.72,-0.75,-0.8,-0.88,-0.95,-1.05,-1.12,-1.2,-1.5,-1.51,-1.52,-1.62,-1.75,-1.85,-1.87,-1.95];
const levels_r4_c2 = [2.05,1.92,1.82,1.7,1.58,1.45,1.35,1.3,1.25,1.2,1.15,1.1,1.05,1.0,0.95,0.88,0.78,0.7,0.6,0.55,0.5,0.45,0.4,0.32,0.22,0.12,0.05,0.0,-0.05,-0.1,-0.15,-0.2,-0.25,-0.3,-0.32,-0.42,-0.5,-0.55,-0.6,-0.65,-0.7,-0.78,-0.88,-0.9,-0.95,-1.0,-1.05,-1.2,-1.35,-1.5,-1.68,-1.7,-1.72,-1.85,-1.95];
const levels_r4_c3 = [2.08,2.05,2.02,1.5,1.35,1.22,1.12,1.02,1.0,0.95,0.9,0.85,0.8,0.75,0.68,0.62,0.58,0.55,0.5,0.42,0.35,0.3,0.25,0.2,0.15,0.05,-0.05,-0.1,-0.15,-0.2,-0.25,-0.32,-0.4,-0.45,-0.5,-0.55,-0.6,-0.65,-0.7,-0.75,-0.8,-0.88,-0.95,-1.0,-1.05,-1.2,-1.3,-1.45,-1.6,-1.7,-1.85,-1.95,-2.08,-2.2,-2.3,-2.42];

// axis ranges and tick steps per panel (row x column)
const yMin = [[-69.6, -24.2, -6.4, -2.875], [-85, -18.1, -7.8, -2.4], [-71.5, -27, -13.7, -11.6], [-2.94, -2.3, -3.08, -2.87], [-1.97, -2.9, -2.35, -2.57]];
const yMax = [[55, 19.4, 6.5, 2.08], [68, 18.1, 6.2, 2.47], [72.7, 29.5, 14, 11], [2.13, 2.42, 2.43, 2.3], [2.96, 3.25, 2.23, 2.6]];
const yStep = [[25, 10, 3, 1], [40, 10, 4, 1], [40, 10, 5, 5], [1, 1, 1, 1], [1, 1, 1, 1]];

// ---------------- LAYOUT / DRAWING ----------------
const walkTable = [
  [paths_r0_c0, paths_r0_c1, paths_r0_c2, paths_r0_c3],
  [paths_r1_c0, paths_r1_c1, paths_r1_c2, paths_r1_c3],
  [paths_r2_c0, paths_r2_c1, paths_r2_c2, paths_r2_c3]
];
const levelTable = [
  [levels_r3_c0, levels_r3_c1, levels_r3_c2, levels_r3_c3],
  [levels_r4_c0, levels_r4_c1, levels_r4_c2, levels_r4_c3]
];
const colLeft = [71, 528, 984, 1441];
const rowTop = [54, 250, 446, 643, 839];
const PW = 404, PH = 141, AXW = 60, PAD = 10;
const FONT = '"Liberation Sans", Arial, sans-serif';

const borderPlugin = {
  id: 'panelBorder',
  afterDraw(chart) {
    const { ctx, chartArea: a } = chart;
    ctx.save();
    ctx.strokeStyle = '#666';
    ctx.lineWidth = 1;
    ctx.strokeRect(Math.round(a.left) + 0.5, Math.round(a.top) + 0.5, Math.round(a.right - a.left) - 1, Math.round(a.bottom - a.top) - 1);
    ctx.restore();
  }
};

function isMajorVal(v, step) {
  const q = v / step;
  return Math.abs(q - Math.round(q)) < 1e-6;
}

function makeStrip(text, left, top, h, cls) {
  const d = document.createElement('div');
  d.className = 'strip ' + cls;
  d.style.left = left + 'px';
  d.style.top = top + 'px';
  d.style.width = PW + 'px';
  d.style.height = h + 'px';
  d.style.lineHeight = (cls === 's2' ? h : h - 2) + 'px';
  d.textContent = text;
  document.body.appendChild(d);
}

function buildPanel(r, c) {
  const L = colLeft[c], T = rowTop[r];
  const bottomRow = r === rowLabels.length - 1;
  makeStrip(rowLabels[r], L, T - 47, 24, 's1');
  makeStrip(colLabels[c], L, T - 23, 23, 's2');

  const cv = document.createElement('canvas');
  const W = AXW + PW + PAD;
  const H = PAD + PH + (bottomRow ? 30 : PAD);
  cv.width = W; cv.height = H;
  cv.style.left = (L - AXW) + 'px';
  cv.style.top = (T - PAD) + 'px';
  cv.style.width = W + 'px'; cv.style.height = H + 'px';
  document.body.appendChild(cv);

  const datasets = [];
  if (r < 3) {
    const walkStyle = { borderColor: 'rgba(0,0,0,0.72)', borderWidth: 1.4, pointRadius: 0, tension: 0, fill: false };
    walkTable[r][c].forEach(p => {
      datasets.push(Object.assign({ data: p.map((y, i) => ({ x: times[i], y: y })) }, walkStyle));
    });
  } else {
    const levelStyle = { borderColor: 'rgba(0,0,0,0.68)', borderWidth: 1.3, pointRadius: 0, tension: 0, fill: false };
    levelTable[r - 3][c].forEach(v => {
      datasets.push(Object.assign({ data: [{ x: times[0], y: v }, { x: times[times.length - 1], y: v }] }, levelStyle));
    });
  }

  const step = yStep[r][c];
  const sci = r >= 3;
  const fmtY = v => {
    if (sci) return v === 0 ? '0e+00' : (Math.round(v) + 'e+06');
    return String(Math.round(v * 1000) / 1000);
  };

  new Chart(cv, {
    type: 'line',
    data: { datasets },
    plugins: [borderPlugin],
    options: {
      responsive: false,
      animation: false,
      devicePixelRatio: 1,
      events: [],
      layout: { padding: { left: 0, top: PAD, right: PAD, bottom: bottomRow ? 6 : PAD } },
      plugins: { legend: { display: false }, tooltip: { enabled: false } },
      scales: {
        x: {
          type: 'linear',
          min: times[0],
          max: times[times.length - 1],
          afterBuildTicks: s => { s.ticks = xTicks.map(v => ({ value: v })); },
          afterFit: s => { s.height = bottomRow ? 24 : 0; },
          border: { display: false },
          grid: {
            color: ctx => (ctx.tick && ctx.tick.value % 2 === 0) ? '#EBEBEB' : '#F5F5F5',
            lineWidth: 1,
            drawTicks: bottomRow,
            tickLength: 4,
            tickColor: ctx => (ctx.tick && ctx.tick.value % 2 === 0) ? '#333333' : 'rgba(0,0,0,0)'
          },
          ticks: {
            display: bottomRow,
            autoSkip: false,
            maxRotation: 0,
            padding: 2,
            color: '#4D4D4D',
            font: { family: FONT, size: 12 },
            callback: v => (v % 2 === 0 ? String(v) : '')
          }
        },
        y: {
          type: 'linear',
          min: yMin[r][c],
          max: yMax[r][c],
          afterBuildTicks: s => {
            const h = step / 2, out = [];
            for (let k = Math.ceil(s.min / h - 1e-9); k * h <= s.max + 1e-9; k++) out.push({ value: +(k * h).toFixed(6) });
            s.ticks = out;
          },
          afterFit: s => { s.width = AXW; },
          border: { display: false },
          grid: {
            color: ctx => (ctx.tick && isMajorVal(ctx.tick.value, step)) ? '#EBEBEB' : '#F5F5F5',
            lineWidth: 1,
            drawTicks: true,
            tickLength: 4,
            tickColor: ctx => (ctx.tick && isMajorVal(ctx.tick.value, step)) ? '#333333' : 'rgba(0,0,0,0)'
          },
          ticks: {
            autoSkip: false,
            padding: 3,
            color: '#4D4D4D',
            font: { family: FONT, size: 12 },
            callback: v => (isMajorVal(v, step) ? fmtY(v) : '')
          }
        }
      }
    }
  });
}

for (let r = 0; r < rowLabels.length; r++) {
  for (let c = 0; c < colLabels.length; c++) buildPanel(r, c);
}
</script>
</body></html>
